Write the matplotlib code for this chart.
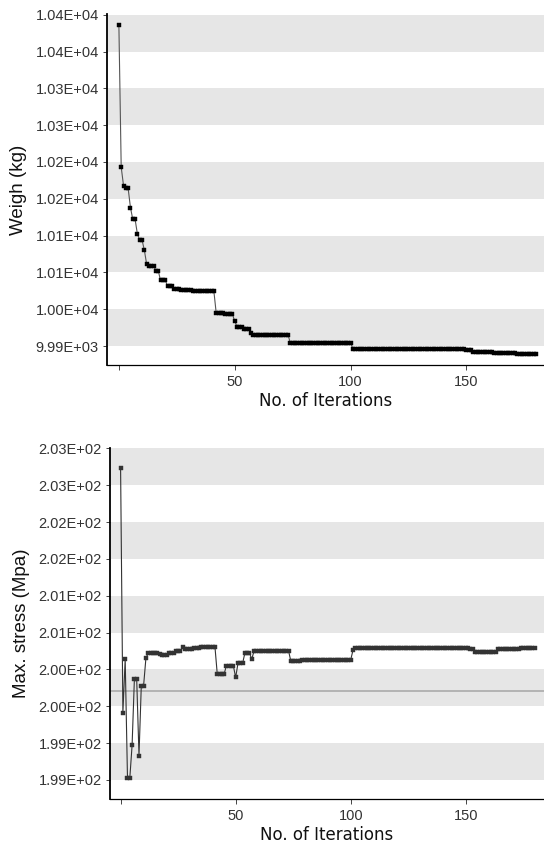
import matplotlib
matplotlib.use("Agg")
import matplotlib.pyplot as plt
from matplotlib.ticker import FormatStrFormatter

# ---------------- data ----------------
iterations = list(range(0, 181))

weight = [
    10426, 10233, 10208, 10204, 10204, 10178, 10162, 10162, 10142, 10134,
    10134, 10120, 10101, 10099, 10099, 10099, 10092, 10092, 10079, 10079,
    10079, 10072, 10072, 10072, 10068, 10068, 10068, 10066, 10066, 10066,
    10066, 10066, 10064.5, 10064.5, 10064.5, 10064.5, 10064.5, 10064.5, 10064.5, 10064.5,
    10064.5, 10064.5, 10035, 10035, 10035, 10035, 10033, 10033, 10033, 10033,
    10024, 10016, 10016, 10016, 10013, 10013, 10013, 10007, 10005, 10005,
    10005, 10005, 10005, 10005, 10005, 10005, 10005, 10005, 10005, 10005,
    10005, 10005, 10005, 10005, 9994.5, 9994.5, 9994.5, 9994.5, 9994.5, 9994.5,
    9994.5, 9994.5, 9994.5, 9994.5, 9994.5, 9994.5, 9994.5, 9994.5, 9994.5, 9994.5,
    9994.5, 9994.5, 9994.5, 9994.5, 9994.5, 9994.5, 9994.5, 9994.5, 9994.5, 9994.5,
    9994.5, 9986.3, 9986.3, 9986.3, 9986.3, 9986.3, 9986.3, 9986.3, 9986.3, 9986.3,
    9986.3, 9986.3, 9986.3, 9986.3, 9986.3, 9986.3, 9986.3, 9986.3, 9986.3, 9986.3,
    9986.3, 9986.3, 9986.3, 9986.3, 9986.3, 9986.3, 9986.3, 9986.3, 9986.3, 9986.3,
    9986.3, 9986.3, 9986.3, 9986.3, 9986.3, 9986.3, 9986.3, 9986.3, 9986.3, 9986.3,
    9986.3, 9986.3, 9986.3, 9986.3, 9986.3, 9986.3, 9986.3, 9986.3, 9986.3, 9986.3,
    9985, 9985, 9985, 9982, 9982, 9982, 9982, 9982, 9982, 9982,
    9982, 9982, 9981, 9981, 9981, 9981, 9981, 9981, 9981, 9981,
    9981, 9981, 9979, 9979, 9979, 9979, 9979, 9979, 9979, 9979,
    9979,
]

stress = [
    203.04, 199.71, 200.44, 198.82, 198.82, 199.27, 200.17, 200.17, 199.13, 200.08,
    200.08, 200.45, 200.52, 200.52, 200.52, 200.52, 200.52, 200.51, 200.50, 200.50,
    200.50, 200.52, 200.52, 200.52, 200.55, 200.55, 200.55, 200.60, 200.58, 200.57,
    200.57, 200.57, 200.59, 200.59, 200.59, 200.61, 200.61, 200.61, 200.61, 200.61,
    200.61, 200.61, 200.24, 200.24, 200.24, 200.24, 200.35, 200.35, 200.35, 200.35,
    200.19, 200.38, 200.38, 200.38, 200.52, 200.52, 200.52, 200.44, 200.55, 200.55,
    200.55, 200.55, 200.55, 200.55, 200.55, 200.55, 200.55, 200.55, 200.55, 200.55,
    200.55, 200.55, 200.55, 200.55, 200.41, 200.41, 200.41, 200.41, 200.41, 200.43,
    200.43, 200.43, 200.43, 200.43, 200.43, 200.43, 200.43, 200.43, 200.43, 200.43,
    200.43, 200.43, 200.43, 200.43, 200.43, 200.43, 200.43, 200.43, 200.43, 200.43,
    200.43, 200.56, 200.59, 200.59, 200.59, 200.59, 200.59, 200.59, 200.59, 200.59,
    200.59, 200.59, 200.59, 200.59, 200.59, 200.59, 200.59, 200.59, 200.59, 200.59,
    200.59, 200.59, 200.59, 200.59, 200.59, 200.59, 200.59, 200.59, 200.59, 200.59,
    200.59, 200.59, 200.59, 200.59, 200.59, 200.59, 200.59, 200.59, 200.59, 200.59,
    200.59, 200.59, 200.59, 200.59, 200.59, 200.59, 200.59, 200.59, 200.59, 200.59,
    200.59, 200.59, 200.58, 200.58, 200.54, 200.54, 200.54, 200.54, 200.54, 200.54,
    200.54, 200.54, 200.54, 200.54, 200.58, 200.58, 200.58, 200.58, 200.58, 200.58,
    200.58, 200.58, 200.58, 200.58, 200.59, 200.59, 200.59, 200.59, 200.59, 200.59,
    200.59,
]

allowable_stress = 200.0

weight_ticks = [9990, 10040, 10090, 10140, 10190, 10240, 10290, 10340, 10390, 10440]
stress_ticks = [198.8, 199.3, 199.8, 200.3, 200.8, 201.3, 201.8, 202.3, 202.8, 203.3]
x_ticks = [0, 50, 100, 150]
x_tick_labels = ["", "50", "100", "150"]

x_label = "No. of Iterations"
weight_label = "Weigh (kg)"
stress_label = "Max. stress (Mpa)"

# ---------------- figure ----------------
W, H = 544, 843
fig = plt.figure(figsize=(W / 100, H / 100), dpi=100)

band_color = "#e6e6e6"
tick_font = ["Liberation Sans", "DejaVu Sans"]


def style_axes(ax, yticks, ylim, xlim):
    ax.set_xlim(*xlim)
    ax.set_ylim(*ylim)
    # alternating bands
    for k in range(0, len(yticks) - 1, 2):
        ax.axhspan(yticks[k], yticks[k + 1], color=band_color, lw=0, zorder=0)
    ax.set_yticks(yticks)
    ax.yaxis.set_major_formatter(FormatStrFormatter("%.2E"))
    ax.set_xticks(x_ticks)
    ax.set_xticklabels(x_tick_labels)
    for s in ["top", "right"]:
        ax.spines[s].set_visible(False)
    ax.spines["left"].set_linewidth(1.3)
    ax.spines["bottom"].set_linewidth(0.9)
    ax.spines["left"].set_color("black")
    ax.spines["bottom"].set_color("black")
    ax.tick_params(axis="y", length=3, width=0.7, color="#444444", pad=3,
                   labelsize=10.5, labelcolor="#333333")
    ax.tick_params(axis="x", length=3.3, width=0.7, color="#444444", pad=4,
                   labelsize=10.5, labelcolor="#333333")
    for lab in ax.get_xticklabels() + ax.get_yticklabels():
        lab.set_family(tick_font)
    ax.set_xlabel(x_label, fontsize=12, family=["DejaVu Sans"], color="#111111",
                  labelpad=2)


# top panel
ax1 = fig.add_axes([107.3 / W, 1 - 365 / H, 1 - 107.3 / W, (365 - 14) / H])
style_axes(ax1, weight_ticks, (9964.2, 10441), (-5, 183.5))
ax1.plot(iterations, weight, color="#555555", lw=0.8, marker="s", markersize=3.3,
         markerfacecolor="black", markeredgecolor="black", markeredgewidth=0.3, zorder=3)
ax1.set_ylabel(weight_label, fontsize=13.5, family=tick_font, color="#111111", labelpad=6)

# bottom panel
ax2 = fig.add_axes([110 / W, 1 - 799 / H, 1 - 110 / W, (799 - 447.7) / H])
style_axes(ax2, stress_ticks, (198.54, 203.31), (-4.6, 184))
ax2.axhline(allowable_stress, color="#aaaaaa", lw=1.2, zorder=1)
ax2.plot(iterations, stress, color="#333333", lw=0.8, marker="s", markersize=3.2,
         markerfacecolor="#333333", markeredgecolor="#333333", markeredgewidth=0.3, zorder=3)
ax2.set_ylabel(stress_label, fontsize=13.5, family=tick_font, color="#111111", labelpad=6)

fig.savefig("out.png", dpi=100)
